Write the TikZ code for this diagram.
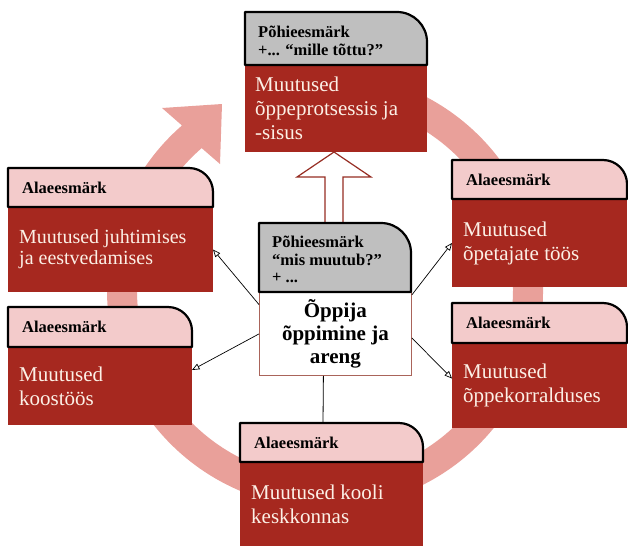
\documentclass[tikz,border=0pt]{standalone}
\usepackage{fontspec}
\setmainfont{Liberation Serif}
\usepackage{tikz}
\usetikzlibrary{arrows}
\definecolor{bodyred}{RGB}{166,40,31}
\definecolor{hdrpink}{RGB}{243,203,203}
\definecolor{hdrgray}{RGB}{191,191,191}
\definecolor{ringpink}{RGB}{233,160,154}
\definecolor{bodytext}{RGB}{252,240,230}
\definecolor{arrowred}{RGB}{150,45,35}
\definecolor{ctrline}{RGB}{170,100,90}
\tikzset{
	hdr/.style={draw=black,line width=2.2pt,line join=round},
	body/.style={fill=bodyred,inner sep=0pt,outer sep=0pt,anchor=north west},
	bodytxt/.style={text=bodytext,align=left,inner sep=0pt,anchor=west},
	hdrtxt/.style={inner sep=0pt,align=left,font=\bfseries\fontsize{16.5}{17.5}\selectfont},
	pointer/.style={-open triangle 45,line width=0.7pt}
}

\begin{document}
\begin{tikzpicture}[x=1pt,y=-1pt]
	\useasboundingbox (0,0) rectangle (628,546);
	% ring with its arrow head
	\fill[ringpink] ([shift={(325,290)}]260:218) arc[start angle=260,end angle=589,radius=218]
		-- (162,108) -- (222,104) -- (220,164)
		-- ([shift={(325,290)}]229:188) arc[start angle=589,end angle=260,radius=188] -- cycle;
	% top box
	\node[body,minimum width=182pt,minimum height=87pt] (tp) at (245,65) {};
	\node[bodytxt,font=\fontsize{21}{24}\selectfont] at ([xshift=10pt]tp.west) {Muutused\\õppeprotsessis ja\\-sisus};
	\draw[hdr,fill=hdrgray] (245,65) -- (245,12) -- (397,12) arc[start angle=-90,end angle=0,radius=30] -- (427,65) -- cycle;
	\node[hdrtxt,anchor=north west] at (258,26) {Põhieesmärk\\+... “mille tõttu?”};
	% the five side boxes
	\foreach \xa/\ya/\xb/\ym/\yb/\nm/\sz/\bs/\txt in {
		8/168/213/207/292/lt/20/21/{Muutused juhtimises\\ja eestvedamises},
		8/307/192/347/425/lb/21/24/{Muutused\\koostöös},
		452/160/627/199/287/rt/21/24/{Muutused\\õpetajate töös},
		452/303/627/343/428/rb/21/24/{Muutused\\õppekorralduses},
		240/423/423/462/546/bt/21/24/{Muutused kooli\\keskkonnas}}
	{
		\node[body,minimum width={(\xb-\xa)*1pt},minimum height={(\yb-\ym)*1pt}] (\nm) at (\xa,\ym) {};
		\node[bodytxt,font=\fontsize{\sz}{\bs}\selectfont] at ([xshift=11pt]\nm.west) {\txt};
		\draw[hdr,fill=hdrpink] (\xa,\ym) -- (\xa,\ya) -- (\xb-24,\ya) arc[start angle=-90,end angle=0,radius=24] -- (\xb,\ym) -- cycle;
		\node[hdrtxt,anchor=base west] at (\xa+14,\ya+25) {Alaeesmärk};
	}
	% hollow arrow up to the top box
	\draw[draw=arrowred,fill=white,line width=1.2pt] ([xshift=-2pt]tp.south) -- ++(-37,25) -- ++(28,0) -- ++(0,46) -- ++(18,0) -- ++(0,-46) -- ++(28,0) -- cycle;
	% centre box
	\node[draw=ctrline,fill=white,line width=0.8pt,minimum width=152pt,minimum height=83pt,anchor=north west,inner sep=0pt,align=center,font=\bfseries\fontsize{21}{23}\selectfont] (ctr) at (259,292) {Õppija\\õppimine ja\\areng};
	\draw[hdr,fill=hdrgray] (259,292) -- (259,223) -- (381,223) arc[start angle=-90,end angle=0,radius=30] -- (411,292) -- cycle;
	\node[hdrtxt,anchor=north west] at (272,236) {Põhieesmärk\\“mis muutub?”\\+ ...};
	% connectors
	\coordinate (bttop) at (323,423);
	\draw[line width=0.8pt] ([xshift=-12pt]ctr.south) -- (bttop);
	\draw[pointer] (ctr.159) -- (lt.east);
	\draw[pointer] (ctr.west) -- ([yshift=16pt]lb.east);
	\draw[pointer] (ctr.27) -- (rt.west);
	\draw[pointer] (ctr.-3) -- ([yshift=7pt]rb.west);
\end{tikzpicture}
\end{document}
